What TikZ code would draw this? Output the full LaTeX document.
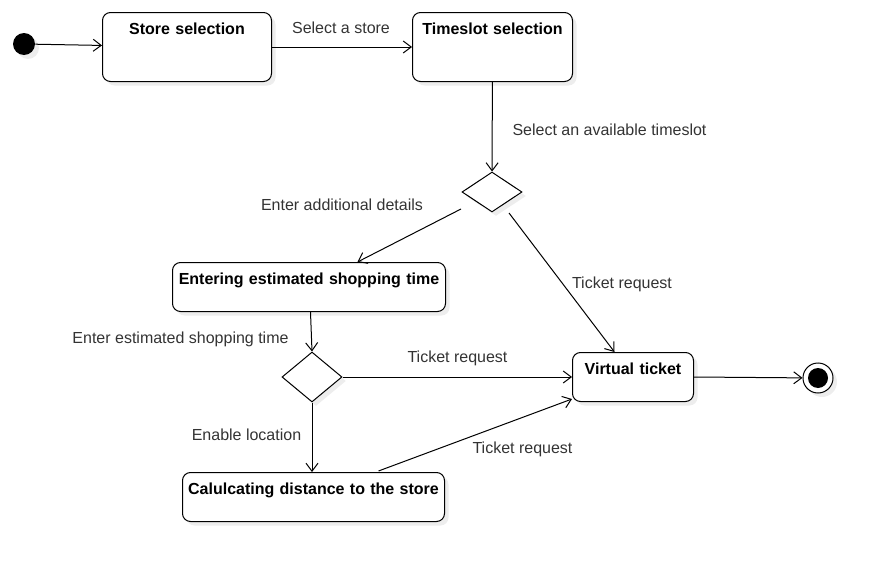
\documentclass[tikz,border=0pt]{standalone}
\usepackage{fontspec}
\setmainfont{Liberation Sans}
\usetikzlibrary{arrows.meta,shapes.geometric,shadows}
\begin{document}
\begin{tikzpicture}
[x=0.75pt,y=-0.75pt,font=\fontsize{12}{14}\selectfont,
  shade/.style={drop shadow={shadow xshift=3pt,shadow yshift=-3pt,fill=black!14}},
  statebox/.style={draw,line width=0.75pt,rounded corners=6pt,fill=white,shade,
    anchor=north west,inner sep=0pt,align=center,text height=16.5pt,
    font=\fontsize{12}{14}\selectfont\bfseries},
  choice/.style={diamond,draw,line width=0.75pt,fill=white,shade,inner sep=0pt,
    minimum width=45pt},
  flow/.style={line width=0.75pt,-{Straight Barb[length=6pt,width=9pt]}},
  flowlabel/.style={text=black!80}]
\useasboundingbox (0,0) rectangle (883,571);
%% pseudo states
\node (start) at (24,44) [circle,fill=black,shade,inner sep=0pt,minimum size=16.5pt] {};
\node (stop) at (818,378) [circle,draw,line width=0.75pt,fill=white,shade,inner sep=0pt,
  minimum size=22.5pt] {};
\fill (stop.center) circle (7.5pt);
%% states
\foreach \nodename/\x/\y/\w/\d/\txt in {
  store/102/12/126.75/35.25/Store selection,
  timeslot/412/12/120/35.25/Timeslot selection,
  entering/172/262/204.75/20.25/Entering estimated shopping time,
  virtual/572/352/90.75/20.25/Virtual ticket,
  distance/182/472/196.5/20.25/Calulcating distance to the store} {
  \node (\nodename) at (\x,\y) [statebox,text width=\w pt,text depth=\d pt] {\txt};
}
%% decisions
\node (d1) at (492,192) [choice,minimum height=30pt] {};
\node (d2) at (312,377) [choice,minimum height=37.5pt] {};
%% transitions
\draw[flow] (start) -- (store);
\draw[flow] (store) -- (timeslot);
\draw[flow] (timeslot) -- (d1);
\draw[flow] ([shift={(-31,17)}]d1.center) -- ([shift={(48.5,0)}]entering.north);
\draw[flow] ([shift={(17,21)}]d1.center) -- ([shift={(-18.5,0)}]virtual.north);
\draw[flow] ([shift={(1.5,0)}]entering.south) -- (d2.north);
\draw[flow] (d2.east) -- (virtual.west);
\draw[flow] (d2.south) -- (d2.south|-distance.north);
\draw[flow] ([shift={(65,-1)}]distance.north) -- ([shift={(0,-3)}]virtual.south west);
\draw[flow] (virtual.east) -- (stop);
%% transition labels
\foreach \labelname/\x/\y/\txt in {
  selstore/341/28/Select a store,
  seltime/609.5/130/Select an available timeslot,
  details/342/205/Enter additional details,
  reqa/622/284/Ticket request,
  estimate/180.5/339/Enter estimated shopping time,
  reqb/457.5/358/Ticket request,
  location/246.5/435/Enable location,
  reqc/522.5/449/Ticket request} {
  \node (\labelname) at (\x,\y) [flowlabel] {\txt};
}
\end{tikzpicture}
\end{document}
